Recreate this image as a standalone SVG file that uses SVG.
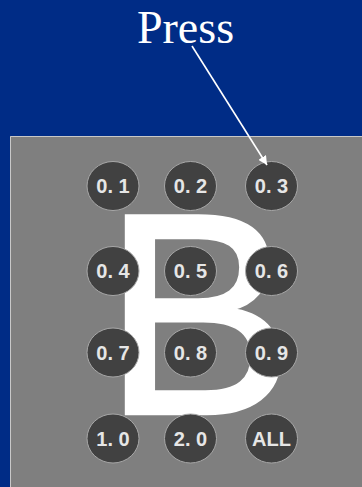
<svg xmlns="http://www.w3.org/2000/svg" width="362" height="487" viewBox="0 0 362 487">
<style>
.btn ellipse{fill:#414141;stroke:#a8a8a8;stroke-width:1}
.btn text{font-family:"Liberation Sans",Arial,sans-serif;font-weight:bold;font-size:20px;fill:#e6e6e6;text-anchor:middle}
</style>
<defs>
<marker id="ah" viewBox="0 0 10 10" refX="10" refY="5" markerWidth="9" markerHeight="9" markerUnits="userSpaceOnUse" orient="auto">
<path d="M0,0 L10,5 L0,10 z" fill="#ffffff"/>
</marker>
</defs>
<rect x="0" y="0" width="362" height="487" fill="#002c86"/>
<g id="panel">
<rect x="10" y="136" width="352" height="351" fill="#7f7f7f"/>
<path d="M10.5,487 V136.5 H362" fill="none" stroke="#c8c8c8" stroke-width="1"/>
<text x="103" y="413.5" font-family="'Liberation Sans',Arial,sans-serif" font-size="287" fill="#ffffff" stroke="#ffffff" stroke-width="3.5" stroke-linejoin="miter">B</text>
</g>
<g id="btn01" class="btn"><ellipse cx="113" cy="186" rx="26" ry="24.5"/><text x="113" y="193">0. 1</text></g>
<g id="btn02" class="btn"><ellipse cx="190.5" cy="186" rx="26" ry="24.5"/><text x="190.5" y="193">0. 2</text></g>
<g id="btn03" class="btn"><ellipse cx="271.5" cy="186" rx="26" ry="24.5"/><text x="271.5" y="193">0. 3</text></g>
<g id="btn04" class="btn"><ellipse cx="113" cy="271" rx="26" ry="24.5"/><text x="113" y="278">0. 4</text></g>
<g id="btn05" class="btn"><ellipse cx="190.5" cy="271" rx="26" ry="24.5"/><text x="190.5" y="278">0. 5</text></g>
<g id="btn06" class="btn"><ellipse cx="271.5" cy="271" rx="26" ry="24.5"/><text x="271.5" y="278">0. 6</text></g>
<g id="btn07" class="btn"><ellipse cx="113" cy="352.5" rx="26" ry="24.5"/><text x="113" y="359.5">0. 7</text></g>
<g id="btn08" class="btn"><ellipse cx="190.5" cy="352.5" rx="26" ry="24.5"/><text x="190.5" y="359.5">0. 8</text></g>
<g id="btn09" class="btn"><ellipse cx="271.5" cy="352.5" rx="26" ry="24.5"/><text x="271.5" y="359.5">0. 9</text></g>
<g id="btn10" class="btn"><ellipse cx="113" cy="438.5" rx="26" ry="24.5"/><text x="113" y="445.5">1. 0</text></g>
<g id="btn20" class="btn"><ellipse cx="190.5" cy="438.5" rx="26" ry="24.5"/><text x="190.5" y="445.5">2. 0</text></g>
<g id="btnall" class="btn"><ellipse cx="271.5" cy="438.5" rx="26" ry="24.5"/><text x="271.5" y="445.5">ALL</text></g>
<g id="label">
<text x="185.5" y="43" font-family="'Liberation Serif','Times New Roman',serif" font-size="46" fill="#ffffff" text-anchor="middle">Press</text>
</g>
<g id="connectors">
<line x1="192" y1="46" x2="267" y2="165" stroke="#ffffff" stroke-width="1.6" marker-end="url(#ah)"/>
</g>
</svg>
